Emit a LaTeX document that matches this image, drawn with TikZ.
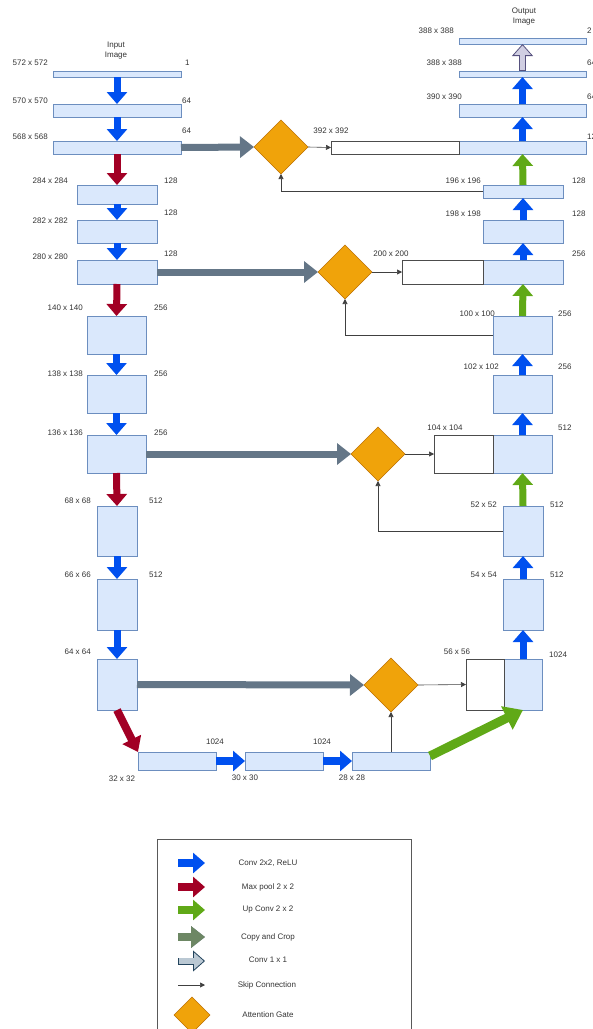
\documentclass[tikz,border=0pt]{standalone}
\usepackage{fontspec}
\setmainfont{Liberation Sans}
\usetikzlibrary{positioning,arrows.meta,shapes.geometric,calc}
\definecolor{mapfill}{HTML}{DAE8FC}
\definecolor{mapdraw}{HTML}{6C8EBF}
\definecolor{convblue}{HTML}{0050EF}
\definecolor{poolred}{HTML}{A20025}
\definecolor{upgreen}{HTML}{60A917}
\definecolor{copygray}{HTML}{647687}
\definecolor{copygreen}{HTML}{6D8764}
\definecolor{gatefill}{HTML}{F0A30A}
\definecolor{gatedraw}{HTML}{BD7000}
\definecolor{onefill}{HTML}{D0CEE2}
\definecolor{onedraw}{HTML}{56517E}
\definecolor{legfill}{HTML}{BAC8D3}
\definecolor{legdraw}{HTML}{23445D}

\begin{document}
\begin{tikzpicture}[x=1pt,y=-1pt,font=\fontsize{8}{10}\selectfont,text=black!80,
  fmap/.style={rectangle,draw=mapdraw,fill=mapfill,line width=0.8pt,
               inner sep=0pt,outer sep=0pt,anchor=north west},
  crop/.style={fmap,draw=black!70,fill=white},
  gate/.style={diamond,draw=gatedraw,fill=gatefill,line width=0.6pt,
               inner sep=0pt,outer sep=0pt,minimum size=54pt,aspect=1},
  lbl/.style={inner sep=0pt},
  fat/.style={line width=7pt,-{Triangle[width=20pt,length=12pt]}},
  convarrow/.style={fat,draw=convblue},
  poolarrow/.style={fat,draw=poolred},
  uparrow/.style={fat,draw=upgreen},
  copyarrow/.style={fat,draw=copygray,-{Triangle[width=21pt,length=14pt]}},
  hollow/.style 2 args={line width=7pt,draw=#2,
               -{Triangle[width=21pt,length=12pt,line width=0.8pt,fill=#1]}},
  hollowcore/.style={line width=5.4pt,draw=#1,shorten >=11pt,shorten <=0.8pt},
  skiparrow/.style={line width=0.6pt,draw=black!75,-{Triangle[width=5pt,length=5pt]}}]
\useasboundingbox (0,0) rectangle (593,1029);

\foreach \n/\x/\y/\w/\h in {e1/53/71/128/6, e2/53/104/128/13, e3/53/141/128/13,
    e4/77/185/80/19, e5/77/220/80/23, e6/77/260/80/24, e7/87/316/59/38,
    e8/87/375/59/38, e9/87/435/59/38, e10/97/506/40/50, e11/97/579/40/51,
    e12/97/659/40/51, b1/138/752/78/18, b2/245/752/78/18, b3/352/752/78/18,
    d1/459/38/127/6, d2/459/71/127/6, d3/459/104/127/13, d4/459/141/127/13,
    d5/483/185/80/13, d6/483/220/80/23, d7/483/260/80/24, d8/493/316/59/38,
    d9/493/375/59/38, d10/493/435/59/38, d11/503/506/40/50, d12/503/579/40/51,
    d13/504/659/38/51}
  \node[fmap,minimum width=\w*1pt,minimum height=\h*1pt] (\n) at (\x,\y) {};
\foreach \n/\x/\y/\w/\h in {c1/331/141/128/13, c2/402/260/81/24,
    c3/434/435/59/38, c4/466/659/38/51}
  \node[crop,minimum width=\w*1pt,minimum height=\h*1pt] (\n) at (\x,\y) {};
\foreach \n/\x/\y in {ag1/281/147, ag2/345/272, ag3/378/454, ag4/391/685}
  \node[gate] (\n) at (\x,\y) {};

\node[lbl,align=center] (intitle) at (116,51) {Input\\Image};
\node[lbl,align=center] (outtitle) at (524,17) {Output\\Image};

% sizes and channels
\foreach \n/\x/\y/\t in {e1/48/63/572 x 572, e2/48/101/570 x 570, e3/48/137/568 x 568,
    e4/68/181/284 x 284, e5/68/221/282 x 282, e6/68/257/280 x 280,
    e7/83/308/140 x 140, e8/83/374/138 x 138, e9/83/433/136 x 136,
    e10/91/501/68 x 68, e11/91/575/66 x 66, e12/91/652/64 x 64,
    d1/454/31/388 x 388, d2/462/63/388 x 388, d3/462/97/390 x 390,
    d5/481/181/196 x 196, d6/481/214/198 x 198, d8/495/314/100 x 100,
    d9/499/367/102 x 102, d11/497/505/52 x 52, d12/497/575/54 x 54}
  \node[lbl,anchor=east] (sz\n) at (\x,\y) {\t};
\foreach \n/\x/\y/\t in {c1/331/131/392 x 392, c2/391/254/200 x 200,
    c3/445/428/104 x 104, c4/457/652/56 x 56, b1/122/779/32 x 32,
    b2/245/778/30 x 30, b3/352/778/28 x 28}
  \node[lbl] (sz\n) at (\x,\y) {\t};
\foreach \n/\x/\y/\t in {e1/185/63/1, e2/182/101/64, e3/182/131/64,
    e4/164/181/128, e5/164/213/128, e6/164/254/128, e7/154/308/256,
    e8/154/374/256, e9/154/433/256, e10/149/501/512, e11/149/575/512,
    d1/587/31/2, d2/587/63/64, d3/587/97/64, d4/587/137/128,
    d5/572/181/128, d6/572/214/128, d7/572/254/256, d8/558/314/256,
    d9/558/367/256, d10/558/428/512, d11/550/505/512, d12/550/575/512,
    d13/549/655/1024}
  \node[lbl,anchor=west] (ch\n) at (\x,\y) {\t};
\node[lbl] (chb1) at (215,742) {1024};
\node[lbl] (chb2) at (322,742) {1024};

% block arrows
\foreach \a/\b/\s in {e1/e2/convarrow, e2/e3/convarrow, e3/e4/poolarrow,
    e4/e5/convarrow, e5/e6/convarrow, e6/e7/poolarrow, e7/e8/convarrow,
    e8/e9/convarrow, e9/e10/poolarrow, e10/e11/convarrow, e11/e12/convarrow}
  \draw[\s] (\a.south) -- (\b.north);
\foreach \a/\b/\s in {d13/d12/convarrow, d12/d11/convarrow, d11/d10/uparrow,
    d10/d9/convarrow, d9/d8/convarrow, d8/d7/uparrow, d7/d6/convarrow,
    d6/d5/convarrow, d5/d4/uparrow, d4/d3/convarrow, d3/d2/convarrow}
  \draw[\s] (\a.north) -- (\b.south);
\draw[hollow={onefill}{onedraw}] (d2.north) -- (d1.south);
\draw[hollowcore=onefill] (d2.north) -- (d1.south);
\draw[convarrow,line width=8pt] (b1.east) -- (b2.west);
\draw[convarrow,line width=8pt] (b2.east) -- (b3.west);
\draw[poolarrow,line width=8pt,-{Triangle[width=20pt,length=14pt]}] (e12.south) -- (b1.north west);
\coordinate (gtail) at ($(b3.north east)+(0,4)$);
\draw[uparrow,line width=9pt,-{Triangle[width=25pt,length=18pt]}] (gtail) -- (d13.south);
\foreach \a/\b in {e3/ag1, e6/ag2, e9/ag3, e12/ag4}
  \draw[copyarrow] (\a.east) -- (\b.west);

% attention gates
\foreach \g/\c in {ag1/c1, ag2/c2, ag3/c3, ag4/c4}
  \draw[skiparrow] (\g.east) -- (\c.west);
\foreach \a/\g in {d5/ag1, d8/ag2, d11/ag3}
  \draw[skiparrow] (\a.west) -| (\g.south);
\draw[skiparrow] (b3.north) -- (ag4.south);

% legend
\node[rectangle,draw=black!65,line width=0.8pt,minimum width=254pt,minimum height=200pt,
      anchor=north west] (legend) at (157,839) {};
\foreach \y/\s/\t [count=\i] in {863/convarrow/{Conv 2x2, ReLU}, 887/poolarrow/{Max pool 2 x 2},
    910/uparrow/{Up Conv 2 x 2}, 937/copyarrow/{Copy and Crop}} {
  \coordinate (ka\i) at (178,\y);
  \coordinate (kb\i) at (205,\y);
  \draw[\s,line width=8pt] (ka\i) -- (kb\i);
  \ifnum\i=4 \draw[copyarrow,draw=copygreen,line width=8pt] (ka\i) -- (kb\i); \fi
  \node[lbl] (kt\i) at (268,\y) {\t};
}
\coordinate (ka5) at (178,961);
\coordinate (kb5) at (205,961);
\draw[hollow={legfill}{legdraw}] (ka5) -- (kb5);
\draw[hollowcore=legfill] (ka5) -- (kb5);
\node[lbl] (kt5) at (268,960) {Conv 1 x 1};
\coordinate (ka6) at (178,985);
\coordinate (kb6) at (205,985);
\draw[skiparrow] (ka6) -- (kb6);
\node[lbl] (kt6) at (267,985) {Skip Connection};
\node[gate,minimum size=36pt] (lgate) at (192,1015) {};
\node[lbl] (kt7) at (268,1015) {Attention Gate};
\end{tikzpicture}
\end{document}
